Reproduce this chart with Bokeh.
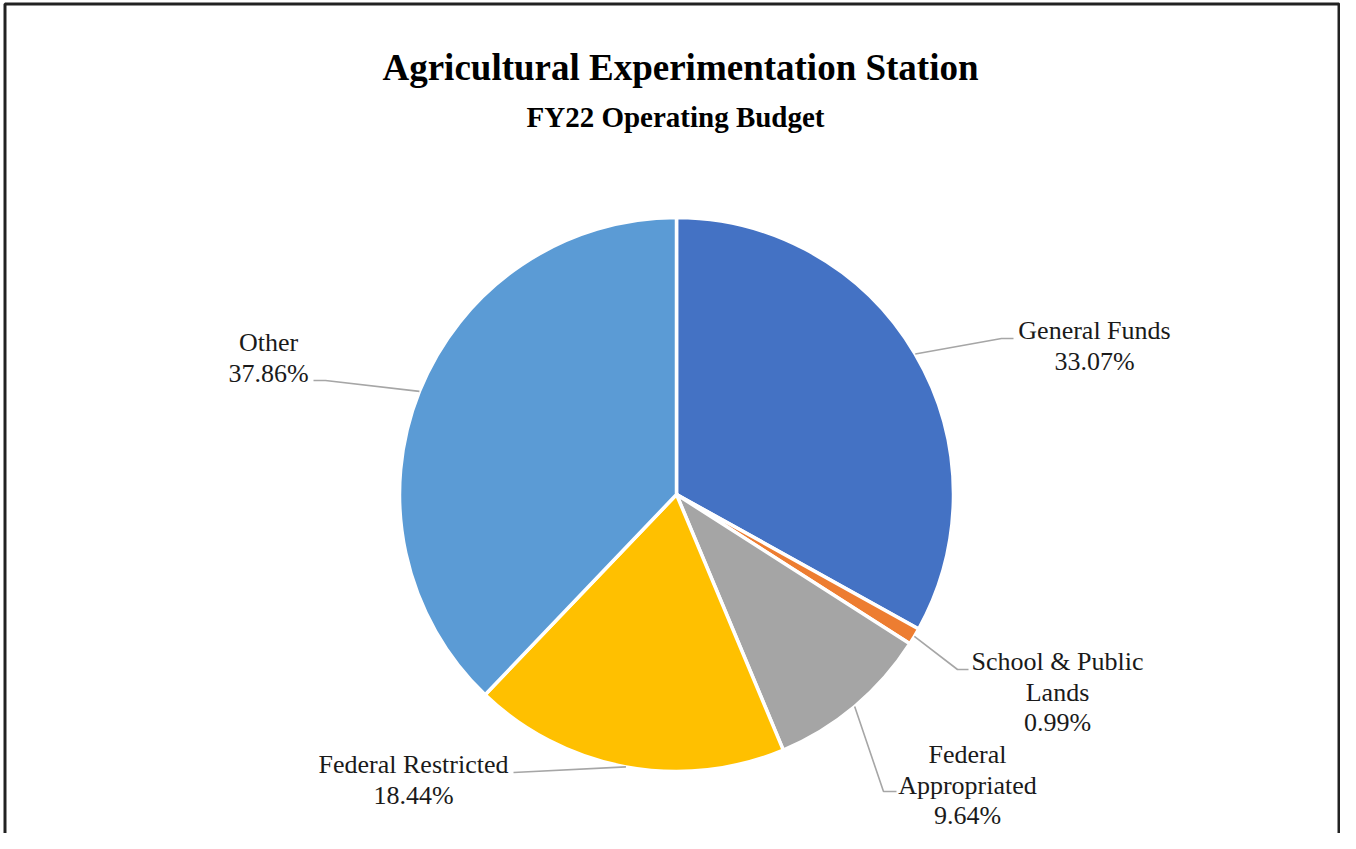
import math
from bokeh.plotting import figure
from bokeh.models import Range1d
from bokeh.core.properties import value
from bokeh.embed import file_html
from bokeh.resources import INLINE

# ---- data ----
categories = ["General Funds", "School & Public Lands", "Federal Appropriated",
              "Federal Restricted", "Other"]
shares = [33.07, 0.99, 9.64, 18.44, 37.86]
label_lines = [["General Funds"], ["School & Public", "Lands"], ["Federal", "Appropriated"],
               ["Federal Restricted"], ["Other"]]
colors = ["#4472C4", "#ED7D31", "#A5A5A5", "#FFC000", "#5B9BD5"]

title = "Agricultural Experimentation Station"
subtitle = "FY22 Operating Budget"

# ---- layout (picture pixel coordinates; y is negated) ----
W, H = 1340, 833
CX, CY, R = 676, -494, 277
# label block centre x, first-line y, elbow point, end of horizontal tick
label_pos = [
    (1094, 330, (1001, 338), (1013, 338)),
    (1057, 661, (957, 669), (968, 669)),
    (967, 754, (883, 791), (896, 791)),
    (413, 764, (513, 772), (513, 772)),
    (268, 342, (325, 380), (313, 380)),
]
LINE_GAP = 30.5

p = figure(width=W, height=H, output_backend="svg", toolbar_location=None,
           x_range=Range1d(0, W), y_range=Range1d(-H, 0),
           min_border=0, outline_line_color=None)
p.axis.visible = False
p.grid.visible = False
p.background_fill_color = "white"
p.border_fill_color = "white"

# wedges, clockwise from 12 o'clock
total = sum(shares)
cum = 0.0
starts, ends, mids = [], [], []
for s in shares:
    a0 = math.pi / 2 - 2 * math.pi * (cum + s) / total
    a1 = math.pi / 2 - 2 * math.pi * cum / total
    starts.append(a0)
    ends.append(a1)
    mids.append((a0 + a1) / 2)
    cum += s

p.wedge(x=[CX] * len(shares), y=[CY] * len(shares), radius=R,
        start_angle=starts, end_angle=ends, direction="anticlock",
        fill_color=colors, line_color="white", line_width=3.5)

# leader lines
for m, (lx, ly, elbow, tick) in zip(mids, label_pos):
    sx = CX + R * math.cos(m)
    sy = CY + R * math.sin(m)
    p.line(x=[sx, elbow[0], tick[0]], y=[sy, -elbow[1], -tick[1]],
           line_color="#A6A6A6", line_width=1.6)

# labels
tx, ty, tt = [], [], []
for lines, s, (lx, ly, _, _) in zip(label_lines, shares, label_pos):
    all_lines = lines + ["%.2f%%" % s]
    for i, t in enumerate(all_lines):
        tx.append(lx)
        ty.append(-(ly + i * LINE_GAP))
        tt.append(t)
p.text(x=tx, y=ty, text=tt, text_font=value("Liberation Serif"),
       text_font_size="26px", text_align="center", text_baseline="middle",
       text_color="#1a1a1a")

# titles
p.text(x=[680], y=[-67], text=[title], text_font=value("Liberation Serif"),
       text_font_size="37px", text_font_style="bold", text_align="center",
       text_baseline="middle", text_color="black")
p.text(x=[675], y=[-116], text=[subtitle], text_font=value("Liberation Serif"),
       text_font_size="29px", text_font_style="bold", text_align="center",
       text_baseline="middle", text_color="black")

# frame (three sides, bottom runs off the picture)
p.line(x=[4.5, 4.5, W - 1.5, W - 1.5], y=[-H, -3.5, -3.5, -H],
       line_color="#222222", line_width=3)

open("out.html", "w").write(file_html(p, INLINE))
